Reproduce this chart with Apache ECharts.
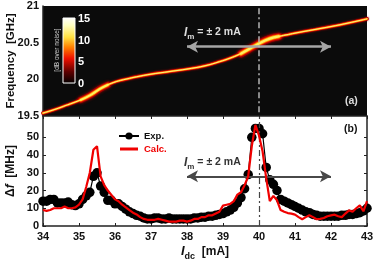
<!DOCTYPE html>
<html><head><meta charset="utf-8">
<script src="https://cdn.jsdelivr.net/npm/echarts@6/dist/echarts.min.js"></script>
<style>html,body{margin:0;padding:0;background:#fff}#c{width:374px;height:262px}</style></head>
<body><div id="c"></div>
<script>
const ridgeCurrent=[34,34.33,34.67,35,35.15,35.3,35.45,35.58,35.75,35.95,36.15,36.33,36.6,37,37.5,38,38.5,38.9,39.2,39.45,39.6,39.75,39.88,40,40.15,40.3,40.5,40.75,41,41.5,42,42.5,43];
const ridgeFreq=[19.54,19.59,19.65,19.71,19.74,19.78,19.82,19.87,19.915,19.955,19.985,20.005,20.035,20.07,20.105,20.14,20.185,20.24,20.29,20.34,20.385,20.42,20.455,20.49,20.525,20.555,20.58,20.605,20.63,20.675,20.72,20.77,20.825];
const wideA=[[35.05,19.72],[35.3,19.78],[35.58,19.87],[35.8,19.925]];
const wideB=[[39.5,20.35],[39.75,20.42],[40,20.49],[40.3,20.555],[40.55,20.585]];
const currents=[34,34.1,34.2,34.3,34.4,34.5,34.6,34.7,34.8,34.9,35,35.1,35.2,35.3,35.4,35.5,35.6,35.7,35.8,35.9,36,36.1,36.2,36.3,36.4,36.5,36.6,36.7,36.8,36.9,37,37.1,37.2,37.3,37.4,37.5,37.6,37.7,37.8,37.9,38,38.1,38.2,38.3,38.4,38.5,38.6,38.7,38.8,38.9,39,39.1,39.2,39.3,39.4,39.5,39.6,39.7,39.8,39.9,40,40.1,40.2,40.3,40.4,40.5,40.6,40.7,40.8,40.9,41,41.1,41.2,41.3,41.4,41.5,41.6,41.7,41.8,41.9,42,42.1,42.2,42.3,42.4,42.5,42.6,42.7,42.8,42.9,43];
const expValues=[14,14,15,15,13,13,13,13.5,12,11.5,12.5,15,17,19,28,30,22.5,19,14.5,14.5,12.5,12.5,11,9.5,8,7,6,5.5,4.5,4,4,4.5,4.5,4,4,4.5,4,4,4,4,4,4,4.5,4.5,5,5,5.5,5.5,6,6.5,7,8,9,10.5,13,16,21,29,50,55,55,52,33,26,23.5,20,15,14,13,12,11,10,9,8,7.5,6.5,6,5.5,5.5,5.5,5.5,5.5,5.5,6,6,6.5,6.5,7,7.5,8.5,10];
const calcValues=[9,8.5,9,10,10,10,11,10,10,10.5,12,15,22,30,43,45,28,23,20,17.5,15,14,12,10.5,9,7.5,6.5,5,4,3.5,3.5,3.5,4,3.5,3,2.5,2.5,2.5,3,3,2.5,3,4,4,5,5,6,6,7,8,11.5,12,12.5,14,17.7,19,23,28,45,57,51,42,27,14,17,14.5,9,8,7.3,7,6.4,5,3.8,5,6,5,3.8,4,4.5,5.5,6,6.4,5.5,5,7,8.8,8,10,11.6,8.3,14];
const freqTicks=[19.5,20,20.5,21];
const dfTicks=[0,10,20,30,40,50];
const currentTicks=[34,35,36,37,38,39,40,41,42,43];
const colorbarTicks=['15','10','5','0'];

const font='"Liberation Sans",Arial,sans-serif';
const ridge=ridgeCurrent.map((x,i)=>[x,ridgeFreq[i]]);
const pairs=(v)=>currents.map((x,i)=>[x,v[i]]);
const hot=(data,w,color,z,blur)=>({type:'line',xAxisIndex:0,yAxisIndex:0,data,showSymbol:false,silent:true,smooth:0.4,z,
  lineStyle:{width:w,color,cap:'round',shadowBlur:blur||0,shadowColor:color},legendHoverLink:false});
const mark=(x1,y,x2,color,w)=>({silent:true,symbol:['arrow','arrow'],symbolSize:[9,11],label:{show:false},
  lineStyle:{color,width:w,type:'solid'},data:[[{coord:[x1,y]},{coord:[x2,y]}]]});
const axisBase={min:34,max:43,interval:1};
const chart=echarts.init(document.getElementById('c'),null,{renderer:'canvas'});
chart.setOption({
  animation:false,backgroundColor:'#fff',
  grid:[
    {left:43,top:6,width:324,height:110,show:true,backgroundColor:'#0b0b0b',borderWidth:0,outerBoundsMode:'none'},
    {left:43,top:116,width:324,height:110,show:false,outerBoundsMode:'none'}
  ],
  legend:{left:118,top:131,padding:0,orient:'vertical',itemWidth:20,itemHeight:9,itemGap:3,
    data:[
      {name:'Exp.',textStyle:{color:'#111'}},
      {name:'Calc.',textStyle:{color:'#f00000'},icon:'path://M0,0H20V0.05H0Z M0,3.2H20V6.8H0Z M0,9.95H20V10H0Z'}
    ],
    textStyle:{fontFamily:font,fontWeight:'bold',fontSize:9.5}},
  xAxis:[
    {...axisBase,gridIndex:0,show:false},
    {...axisBase,gridIndex:1,position:'bottom',
      axisLine:{onZero:false,lineStyle:{color:'#222',width:1.5}},
      axisTick:{inside:true,length:3,lineStyle:{color:'#222'}},
      splitLine:{show:false},
      axisLabel:{color:'#111',fontFamily:font,fontWeight:'bold',fontSize:11,margin:5,customValues:currentTicks},
      name:'{i|I}{s|dc}  {n|[mA]}',nameLocation:'middle',nameGap:16,nameMoveOverlap:false,
      nameTextStyle:{rich:{
        i:{fontFamily:font,fontWeight:'bold',fontStyle:'italic',fontSize:13,color:'#111'},
        s:{fontFamily:font,fontWeight:'bold',fontSize:9,color:'#111',verticalAlign:'top',padding:[10,0,0,0]},
        n:{fontFamily:font,fontWeight:'bold',fontSize:12,color:'#111'}}}},
    {...axisBase,gridIndex:1,position:'top',
      axisLine:{onZero:false,lineStyle:{color:'#222',width:1.5}},
      axisTick:{inside:true,length:3,lineStyle:{color:'#222'}},axisLabel:{show:false},splitLine:{show:false}}
  ],
  yAxis:[
    {gridIndex:0,min:19.5,max:21,interval:0.5,
      axisLine:{show:true,onZero:false,lineStyle:{color:'#222',width:1.5}},
      axisTick:{show:false},splitLine:{show:false},
      axisLabel:{color:'#111',fontFamily:font,fontWeight:'bold',fontSize:11,margin:4,customValues:freqTicks,formatter:v=>String(v)},
      name:'Frequency  [GHz]',nameLocation:'middle',nameRotate:90,nameGap:26,nameMoveOverlap:false,
      nameTextStyle:{color:'#111',fontFamily:font,fontWeight:'bold',fontSize:11.5}},
    {gridIndex:1,min:0,max:62,position:'left',
      axisLine:{show:true,onZero:false,lineStyle:{color:'#222',width:1.5}},
      axisTick:{inside:true,length:3,lineStyle:{color:'#222'},customValues:dfTicks},splitLine:{show:false},
      axisLabel:{color:'#111',fontFamily:font,fontWeight:'bold',fontSize:11,margin:4,customValues:dfTicks},
      name:'{d|Δ}{f|f}{d|  [MHz]}',nameLocation:'middle',nameRotate:90,nameGap:26,nameMoveOverlap:false,
      nameTextStyle:{rich:{
        d:{fontFamily:font,fontWeight:'bold',fontSize:12,color:'#111'},
        f:{fontFamily:font,fontWeight:'bold',fontStyle:'italic',fontSize:12,color:'#111'}}}},
    {gridIndex:1,min:0,max:62,position:'right',
      axisLine:{show:true,onZero:false,lineStyle:{color:'#222',width:1.5}},
      axisTick:{inside:true,length:3,lineStyle:{color:'#222'},customValues:dfTicks},
      axisLabel:{show:false},splitLine:{show:false}}
  ],
  series:[
    hot(ridge,3.4,'#b00000',2,2),
    hot(wideA,6.5,'#a00000',3,3),
    hot(wideB,7.5,'#a00000',3,3),
    hot(ridge,2.6,'#f01800',4),
    hot(wideA,4.6,'#f01800',5),
    hot(wideB,5.5,'#f01800',5),
    hot(ridge,1.8,'#ffa800',6),
    hot(wideA,3.2,'#ffa800',7),
    hot(wideB,3.8,'#ffa800',7),
    hot(ridge,1,'#fff080',8),
    hot(wideA,1.8,'#ffee60',9),
    hot(wideB,2.2,'#ffee60',9),
    {type:'line',xAxisIndex:0,yAxisIndex:0,data:[],z:12,silent:true,
      markLine:{...mark(38,20.445,42,'#a6a6a6',2.5),z:12}},
    {type:'line',xAxisIndex:0,yAxisIndex:0,data:[],z:13,silent:true,
      markLine:{silent:true,symbol:'none',label:{show:false},lineStyle:{color:'#b4b4b4',width:1.5,type:[6,3,2,3]},
        data:[[{coord:[40,19.55]},{coord:[40,21]}]],z:13}},
    {name:'Exp.',type:'line',xAxisIndex:1,yAxisIndex:1,data:pairs(expValues),symbol:'circle',symbolSize:9.5,showSymbol:true,
      itemStyle:{color:'#000'},lineStyle:{color:'#000',width:1.2},z:4,
      markLine:{...mark(38,28,42,'#484848',2.2),z:6}},
    {name:'Calc.',type:'line',xAxisIndex:1,yAxisIndex:1,data:pairs(calcValues),showSymbol:false,symbol:'none',
      itemStyle:{color:'#f00000'},lineStyle:{color:'#f00000',width:2.2},z:7,
      markLine:{silent:true,symbol:'none',label:{show:false},lineStyle:{color:'#444',width:1.2,type:[6,3,2,3]},
        data:[[{coord:[40,0]},{coord:[40,62]}]],z:5}},
    {type:'line',xAxisIndex:2,yAxisIndex:2,data:[],silent:true}
  ],
  graphic:[
    {type:'rect',x:63,y:18,shape:{width:12,height:65},z:20,
      style:{stroke:'#fff',lineWidth:1,fill:new echarts.graphic.LinearGradient(0,0,0,1,[
        {offset:0,color:'#fff'},{offset:0.12,color:'#ffffc0'},{offset:0.3,color:'#ffe040'},
        {offset:0.45,color:'#ff8000'},{offset:0.62,color:'#f01000'},{offset:0.82,color:'#600000'},{offset:1,color:'#000'}])}},
    ...colorbarTicks.map((t,i)=>({type:'text',x:78,y:13.5+i*21.6,z:20,
      style:{text:t,fill:'#fff',font:'bold 11px '+font}})),
    {type:'text',x:57,y:50,rotation:Math.PI/2,z:20,
      style:{text:'[dB over noise]',fill:'#ccc',font:'6.5px '+font,align:'center',verticalAlign:'middle'}},
    {type:'text',x:345,y:96,z:20,style:{text:'(a)',fill:'#ddd',font:'bold 10.5px '+font}},
    {type:'text',x:344,y:124,z:20,style:{text:'(b)',fill:'#111',font:'bold 10.5px '+font}},
    {type:'text',x:184,y:24,z:20,style:{
      text:'{i|I}{s|m}{t| = ± 2 mA}',rich:{
        i:{fill:'#ddd',font:'italic bold 12px '+font},
        s:{fill:'#ddd',font:'bold 8px '+font,padding:[9,0,0,0]},
        t:{fill:'#ddd',font:'bold 10.5px '+font}}}},
    {type:'text',x:184,y:154,z:20,style:{
      text:'{i|I}{s|m}{t| = ± 2 mA}',rich:{
        i:{fill:'#333',font:'italic bold 12px '+font},
        s:{fill:'#333',font:'bold 8px '+font,padding:[9,0,0,0]},
        t:{fill:'#333',font:'bold 10.5px '+font}}}}
  ]
});
</script></body></html>
